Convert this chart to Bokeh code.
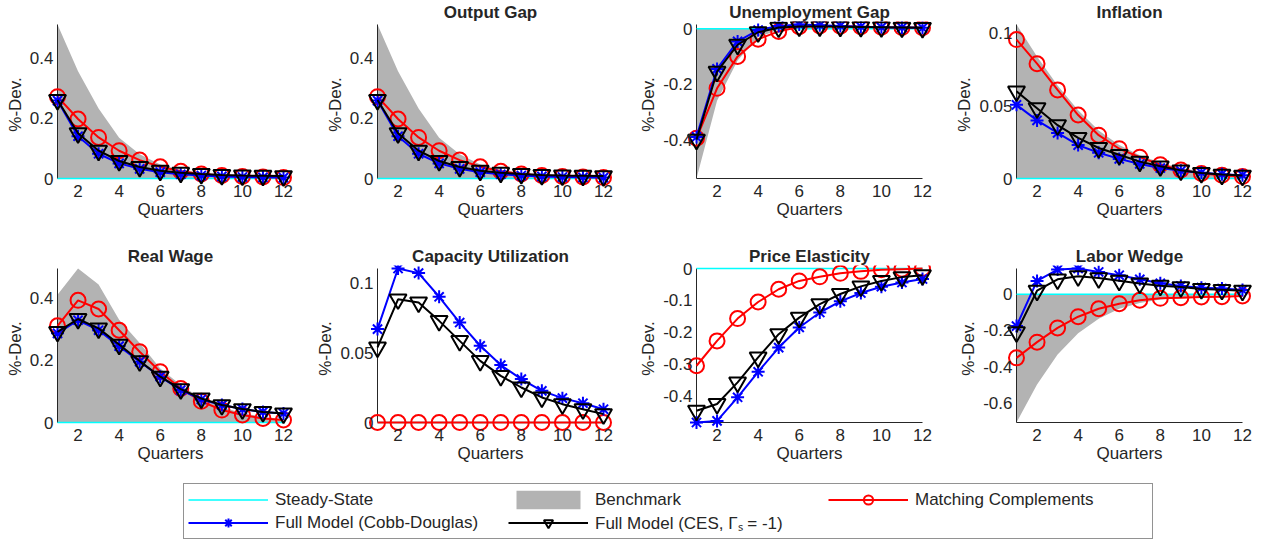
from bokeh.plotting import figure
from bokeh.models import (Range1d, LinearAxis, FixedTicker, Legend, LegendItem)
from bokeh.layouts import column, row
from bokeh.embed import file_html
from bokeh.resources import INLINE

# ---------------- data ----------------
quarters = [1, 2, 3, 4, 5, 6, 7, 8, 9, 10, 11, 12]
steady_state = [0, 0, 0, 0, 0, 0, 0, 0, 0, 0, 0, 0]
x_ticks = [2, 4, 6, 8, 10, 12]

titles = ["", "Output Gap", "Unemployment Gap", "Inflation",
          "Real Wage", "Capacity Utilization", "Price Elasticity", "Labor Wedge"]

# Output gap (first, untitled panel shows the same responses)
bench_output = [0.51, 0.355, 0.232, 0.135, 0.08, 0.046, 0.028, 0.018, 0.012, 0.008, 0.006, 0.004]
match_output = [0.271, 0.197, 0.136, 0.092, 0.061, 0.039, 0.024, 0.015, 0.01, 0.007, 0.005, 0.003]
cd_output = [0.258, 0.14, 0.082, 0.05, 0.032, 0.021, 0.014, 0.01, 0.007, 0.005, 0.004, 0.003]
ces_output = [0.26, 0.15, 0.092, 0.058, 0.038, 0.026, 0.019, 0.015, 0.012, 0.01, 0.009, 0.008]

bench_unemp = [-0.54, -0.26, -0.115, -0.03, -0.005, 0.0, 0.002, 0.002, 0.001, 0.001, 0.0, 0.0]
match_unemp = [-0.395, -0.215, -0.1, -0.038, -0.01, 0.007, 0.01, 0.009, 0.007, 0.005, 0.004, 0.003]
cd_unemp = [-0.39, -0.145, -0.046, -0.005, 0.01, 0.015, 0.012, 0.01, 0.007, 0.005, 0.004, 0.003]
ces_unemp = [-0.4, -0.155, -0.058, -0.013, 0.004, 0.008, 0.008, 0.007, 0.006, 0.005, 0.004, 0.003]

bench_infl = [0.106, 0.084, 0.064, 0.047, 0.033, 0.023, 0.016, 0.011, 0.007, 0.005, 0.003, 0.002]
match_infl = [0.0956, 0.079, 0.061, 0.0437, 0.0298, 0.0205, 0.0147, 0.0095, 0.0058, 0.0035, 0.0022, 0.0013]
cd_infl = [0.0507, 0.040, 0.0314, 0.023, 0.0177, 0.0135, 0.010, 0.0072, 0.0053, 0.004, 0.003, 0.0023]
ces_infl = [0.06, 0.0484, 0.0367, 0.028, 0.021, 0.0163, 0.0116, 0.0084, 0.0056, 0.0038, 0.0027, 0.002]

bench_wage = [0.41, 0.494, 0.443, 0.33, 0.255, 0.173, 0.12, 0.077, 0.05, 0.03, 0.018, 0.011]
match_wage = [0.31, 0.392, 0.364, 0.296, 0.227, 0.163, 0.109, 0.068, 0.04, 0.024, 0.013, 0.008]
cd_wage = [0.286, 0.328, 0.296, 0.245, 0.195, 0.147, 0.104, 0.074, 0.056, 0.043, 0.034, 0.029]
ces_wage = [0.291, 0.332, 0.302, 0.25, 0.197, 0.147, 0.107, 0.077, 0.056, 0.043, 0.034, 0.029]

bench_cap = [0, 0, 0, 0, 0, 0, 0, 0, 0, 0, 0, 0]
match_cap = [0, 0, 0, 0, 0, 0, 0, 0, 0, 0, 0, 0]
cd_cap = [0.0667, 0.11, 0.1067, 0.0898, 0.0714, 0.0548, 0.041, 0.031, 0.0226, 0.0174, 0.0138, 0.0095]
ces_cap = [0.0536, 0.088, 0.0857, 0.0726, 0.0583, 0.044, 0.0333, 0.025, 0.0179, 0.0131, 0.0095, 0.006]

bench_elast = [0, 0, 0, 0, 0, 0, 0, 0, 0, 0, 0, 0]
match_elast = [-0.305, -0.227, -0.157, -0.105, -0.065, -0.039, -0.026, -0.015, -0.009, -0.004, -0.002, 0.0]
cd_elast = [-0.483, -0.478, -0.404, -0.324, -0.248, -0.185, -0.138, -0.103, -0.077, -0.057, -0.044, -0.033]
ces_elast = [-0.446, -0.425, -0.357, -0.279, -0.206, -0.154, -0.112, -0.08, -0.056, -0.039, -0.027, -0.021]

bench_wedge = [-0.71, -0.5, -0.334, -0.215, -0.135, -0.08, -0.048, -0.029, -0.018, -0.011, -0.007, -0.004]
match_wedge = [-0.352, -0.265, -0.186, -0.124, -0.08, -0.052, -0.033, -0.022, -0.019, -0.015, -0.013, -0.009]
cd_wedge = [-0.176, 0.074, 0.137, 0.143, 0.124, 0.106, 0.083, 0.061, 0.046, 0.037, 0.032, 0.024]
ces_wedge = [-0.21, 0.02, 0.083, 0.1, 0.09, 0.075, 0.06, 0.048, 0.04, 0.03, 0.025, 0.02]

yticks_output = [0, 0.2, 0.4]
ylabels_output = ["0", "0.2", "0.4"]
yticks_unemp = [-0.4, -0.2, 0]
ylabels_unemp = ["-0.4", "-0.2", "0"]
yticks_infl = [0, 0.05, 0.1]
ylabels_infl = ["0", "0.05", "0.1"]
yticks_wage = [0, 0.2, 0.4]
ylabels_wage = ["0", "0.2", "0.4"]
yticks_cap = [0, 0.05, 0.1]
ylabels_cap = ["0", "0.05", "0.1"]
yticks_elast = [-0.4, -0.3, -0.2, -0.1, 0]
ylabels_elast = ["-0.4", "-0.3", "-0.2", "-0.1", "0"]
yticks_wedge = [-0.6, -0.4, -0.2, 0]
ylabels_wedge = ["-0.6", "-0.4", "-0.2", "0"]

legend_labels = ["Steady-State", "Benchmark", "Matching Complements",
                 "Full Model (Cobb-Douglas)", "Full Model (CES, \u0393\u209b = -1)"]

# ---------------- style ----------------
FONT = "Liberation Sans"
TXT = "#262626"
GRAY = "#b3b3b3"
CYAN = "#00ffff"
AX_W, AX_H = 226, 154
PAD_X, PAD_T, PAD_B = 10, 3, 9


def make_panel(title, bench, match, cd, ces, yt, yl, b_left, b_right, b_bottom):
    allv = bench + match + cd + ces + steady_state
    ymin, ymax = min(allv), max(allv)
    span = ymax - ymin
    xlo, xhi = quarters[0], quarters[-1]
    x0 = xlo - PAD_X * (xhi - xlo) / AX_W
    x1 = xhi + PAD_X * (xhi - xlo) / AX_W
    y0 = ymin - PAD_B * span / AX_H
    y1 = ymax + PAD_T * span / AX_H
    p = figure(frame_width=AX_W + 2 * PAD_X, frame_height=AX_H + PAD_T + PAD_B,
               x_range=Range1d(x0, x1), y_range=Range1d(y0, y1),
               x_axis_type=None, y_axis_type=None,
               min_border_left=b_left, min_border_right=b_right,
               min_border_top=20, min_border_bottom=b_bottom,
               toolbar_location=None, output_backend="svg",
               title=title if title else None)
    p.outline_line_color = None
    p.background_fill_color = "white"
    p.border_fill_color = "white"
    if title:
        p.title.align = "center"
        p.title.text_font = FONT
        p.title.text_font_size = "17px"
        p.title.text_font_style = "bold"
        p.title.text_color = TXT
        p.title.standoff = 0

    xa = LinearAxis(ticker=FixedTicker(ticks=x_ticks), bounds=(xlo, xhi),
                    axis_label="Quarters")
    ya = LinearAxis(ticker=FixedTicker(ticks=yt), bounds=(ymin, ymax),
                    axis_label="%-Dev.",
                    major_label_overrides=dict(zip(yt, yl)))
    for ax in (xa, ya):
        ax.axis_line_color = None
        ax.major_tick_line_color = None
        ax.minor_tick_line_color = None
        ax.major_tick_in = 0
        ax.major_tick_out = 0
        ax.minor_tick_in = 0
        ax.minor_tick_out = 0
        ax.major_label_text_font = FONT
        ax.major_label_text_font_size = "17px"
        ax.major_label_text_color = TXT
        ax.axis_label_text_font = FONT
        ax.axis_label_text_font_size = "17px"
        ax.axis_label_text_font_style = "normal"
        ax.axis_label_text_color = TXT
    # labels sit next to the axis lines drawn at the data limits
    xa.major_label_standoff = 6 - PAD_B
    ya.major_label_standoff = 4 - PAD_X
    xa.axis_label_standoff = 0
    ya.axis_label_standoff = 2
    p.add_layout(xa, "below")
    p.add_layout(ya, "left")

    p.varea(x=quarters, y1=steady_state, y2=bench, fill_color=GRAY, fill_alpha=1)
    # axis lines at the data limits (box off, MATLAB-style)
    p.line([xlo, xlo], [ymin, ymax], line_color=TXT, line_width=1)
    p.line([xlo, xhi], [ymin, ymin], line_color=TXT, line_width=1)
    p.line(quarters, steady_state, line_color=CYAN, line_width=1.5)
    p.line(quarters, match, line_color="red", line_width=2)
    p.scatter(quarters, match, marker="circle", size=15, line_color="red",
              line_width=2, fill_color=None)
    p.line(quarters, cd, line_color="blue", line_width=2)
    p.scatter(quarters, cd, marker="asterisk", size=13, line_color="blue", line_width=2)
    p.line(quarters, ces, line_color="black", line_width=2)
    p.scatter(quarters, ces, marker="inverted_triangle", size=17, line_color="black",
              line_width=2, fill_color=None)
    return p


specs_top = [
    (titles[0], bench_output, match_output, cd_output, ces_output, yticks_output, ylabels_output),
    (titles[1], bench_output, match_output, cd_output, ces_output, yticks_output, ylabels_output),
    (titles[2], bench_unemp, match_unemp, cd_unemp, ces_unemp, yticks_unemp, ylabels_unemp),
    (titles[3], bench_infl, match_infl, cd_infl, ces_infl, yticks_infl, ylabels_infl),
]
specs_bot = [
    (titles[4], bench_wage, match_wage, cd_wage, ces_wage, yticks_wage, ylabels_wage),
    (titles[5], bench_cap, match_cap, cd_cap, ces_cap, yticks_cap, ylabels_cap),
    (titles[6], bench_elast, match_elast, cd_elast, ces_elast, yticks_elast, ylabels_elast),
    (titles[7], bench_wedge, match_wedge, cd_wedge, ces_wedge, yticks_wedge, ylabels_wedge),
]
borders_top = [(47, 27), (47, 22), (51, 19), (55, 11)]
borders_bot = [(47, 19), (55, 22), (51, 23), (51, 11)]

top = [make_panel(*s, b_left=b[0], b_right=b[1], b_bottom=57) for s, b in zip(specs_top, borders_top)]
bot = [make_panel(*s, b_left=b[0], b_right=b[1], b_bottom=51) for s, b in zip(specs_bot, borders_bot)]

# ---------------- legend ----------------
# the legend figure's view is set away from the data, so only the legend is seen
lf = figure(width=1263, height=61, x_range=Range1d(100, 101), y_range=Range1d(100, 101),
            x_axis_type=None, y_axis_type=None, min_border=0,
            toolbar_location=None, output_backend="svg")
lf.outline_line_color = None
lf.grid.visible = False
r_ss = lf.line(quarters, steady_state, line_color=CYAN, line_width=1.5)
r_bm = lf.varea(x=quarters, y1=steady_state, y2=bench_output, fill_color=GRAY, fill_alpha=1)
r_ml = lf.line(quarters, match_output, line_color="red", line_width=2)
r_mm = lf.scatter(quarters, match_output, marker="circle", size=15, line_color="red",
                  line_width=2, fill_color=None)
r_cl = lf.line(quarters, cd_output, line_color="blue", line_width=2)
r_cm = lf.scatter(quarters, cd_output, marker="asterisk", size=13, line_color="blue", line_width=2)
r_el = lf.line(quarters, ces_output, line_color="black", line_width=2)
r_em = lf.scatter(quarters, ces_output, marker="inverted_triangle", size=17, line_color="black",
                  line_width=2, fill_color=None)

items = [
    LegendItem(label=legend_labels[0], renderers=[r_ss]),
    LegendItem(label=legend_labels[1], renderers=[r_bm]),
    LegendItem(label=legend_labels[2], renderers=[r_ml, r_mm]),
    LegendItem(label=legend_labels[3], renderers=[r_cl, r_cm]),
    LegendItem(label=legend_labels[4], renderers=[r_el, r_em]),
]
leg = Legend(items=items, location=(183, 4), orientation="horizontal", ncols=3,
             glyph_width=80, glyph_height=23, label_height=23, label_width=233,
             label_standoff=7, spacing=0, padding=4, margin=0,
             label_text_font=FONT, label_text_font_size="17px", label_text_color=TXT,
             border_line_color=TXT, border_line_width=1, background_fill_color="white",
             background_fill_alpha=1)
lf.add_layout(leg, "center")

layout = column(row(*top), row(*bot), lf)
open("out.html", "w").write(file_html(layout, INLINE))
